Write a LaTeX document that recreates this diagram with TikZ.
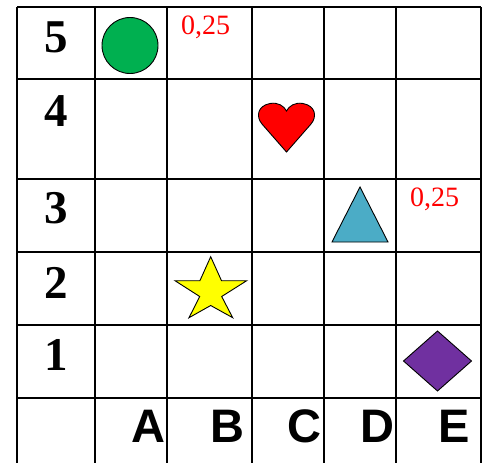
\documentclass[tikz,border=0pt]{standalone}
\usepackage{fontspec}
\setmainfont{Liberation Serif}
\newfontfamily\arialfont{Liberation Sans}
\definecolor{cgreen}{HTML}{00B050}
\definecolor{cblue}{HTML}{4BACC6}
\definecolor{cpurple}{HTML}{7030A0}
\definecolor{cyellow}{HTML}{FFFF00}
\definecolor{cred}{HTML}{FF0000}
\tikzset{
  gridline/.style={line width=1.7pt},
  shapeline/.style={draw=black, line width=0.9pt, line join=miter},
  rowlab/.style={anchor=base, inner sep=0pt, font=\fontsize{47}{47}\selectfont\bfseries},
  collab/.style={anchor=base, inner sep=0pt, font=\arialfont\fontsize{47}{47}\selectfont\bfseries},
  score/.style={anchor=base west, inner sep=0pt, text=cred, font=\fontsize{28}{28}\selectfont},
}
\begin{document}
\begin{tikzpicture}[x=1pt,y=-1pt]
\useasboundingbox (0,0) rectangle (487,463);
% grid
\foreach \x in {17,95,167,252,324,396,481}
  \draw[gridline] (\x,7) -- (\x,463);
\foreach \y in {7,79,179,252,325,398}
  \draw[gridline] (17,\y) -- (481,\y);
% row labels
\node[rowlab] (r5) at (56,52) {5};
\node[rowlab] (r4) at (56,126) {4};
\node[rowlab] (r3) at (56,223) {3};
\node[rowlab] (r2) at (56,298) {2};
\node[rowlab] (r1) at (56,370) {1};
% column labels
\node[collab] (cA) at (148,442) {A};
\node[collab] (cB) at (227,442) {B};
\node[collab] (cC) at (304,442) {C};
\node[collab] (cD) at (377,442) {D};
\node[collab] (cE) at (454,442) {E};
% scores
\node[score] (s1) at (181,34) {0,25};
\node[score] (s2) at (410,206) {0,25};
% circle
\draw[shapeline, fill=cgreen] (130,45.5) circle (28);
% heart
\draw[shapeline, fill=cred] (286.5,152) -- (262,124)
  .. controls (256,117) and (257,106) .. (270,103.5)
  .. controls (278,102) and (284,106) .. (286.5,111)
  .. controls (289,106) and (295,102) .. (303,103.5)
  .. controls (316,106) and (317,117) .. (311,124) -- cycle;
% triangle
\draw[shapeline, fill=cblue] (360,187) -- (388,242) -- (332,242) -- cycle;
% star
\draw[shapeline, fill=cyellow] (210.7,256.7) -- (221.5,280.7) -- (246.7,280.7)
  -- (221.7,296.5) -- (232.7,317.7) -- (210.7,305.5) -- (189,317.7)
  -- (199.7,296.5) -- (175,280.7) -- (199.9,280.7) -- cycle;
% diamond
\draw[shapeline, fill=cpurple] (437.5,331) -- (471.5,361) -- (437.5,391) -- (403.5,361) -- cycle;
\end{tikzpicture}
\end{document}
